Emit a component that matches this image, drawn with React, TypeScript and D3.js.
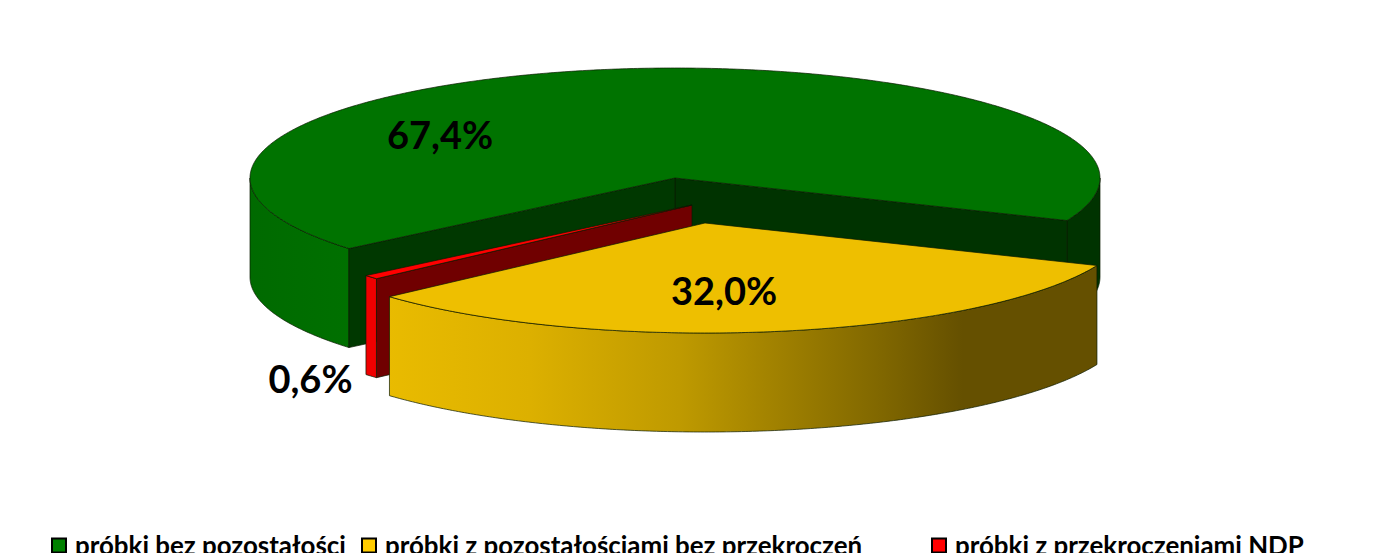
import React from "react";
import * as d3 from "d3";

const categories = ["próbki bez pozostałości", "próbki z pozostałościami bez przekroczeń", "próbki z przekroczeniami NDP"];
const values = [67.4, 32.0, 0.6];
const valueLabels = ["67,4%", "32,0%", "0,6%"];
const topColors = ["#007300", "#eebf00", "#ff0000"];
const legendColors = ["#008000", "#ffcc00", "#ff0000"];

const rx = 425, ry = 110, depth = 99;
const centers: [number, number][] = [[675, 178], [705, 223], [692, 205]];
const rad = Math.PI / 180;
const startDeg = 230.1;
const pie = d3.pie<number>().sort(null).startAngle(startDeg * rad).endAngle((startDeg + 360) * rad);
const arcs = pie(values);

const pt = (c: [number, number], a: number, dy = 0): [number, number] => [
  c[0] + rx * Math.sin(a),
  c[1] - ry * Math.cos(a) + dy,
];
const samples = (a0: number, a1: number) => {
  const n = Math.max(2, Math.ceil(Math.abs(a1 - a0) / (0.5 * rad)));
  return d3.range(n + 1).map((i) => a0 + ((a1 - a0) * i) / n);
};
const line = d3.line<[number, number]>();
const topPath = (c: [number, number], a0: number, a1: number) =>
  line([c, ...samples(a0, a1).map((a) => pt(c, a))])! + "Z";
const wallPath = (c: [number, number], a0: number, a1: number) =>
  line([...samples(a0, a1).map((a) => pt(c, a)), ...samples(a1, a0).map((a) => pt(c, a, depth))])! + "Z";
const sidePath = (c: [number, number], a: number) =>
  line([c, pt(c, a), pt(c, a, depth), [c[0], c[1] + depth]])! + "Z";

const stroke = { stroke: "#0a1a00", strokeWidth: 0.7, strokeLinejoin: "round" as const };
const labelFont = { fontFamily: "Lato, sans-serif", fontWeight: 700 };

const labelPos: [number, number][] = [[440, 149], [724, 304.5], [310.5, 392.5]];
const legendX = [52, 362, 932];

export default function App() {
  const [g, y, r] = arcs;
  const gc = centers[0], yc = centers[1], rc = centers[2];
  const east = 90 * rad, west = 270 * rad;
  const gEnd = g.endAngle - 360 * rad;
  return (
    <svg width={1378} height={553} style={{ position: "fixed", left: 0, top: 0, background: "#fff" }}>
      <defs>
        <linearGradient id="yw" gradientUnits="userSpaceOnUse" x1={388} x2={1097} y1={0} y2={0}>
          <stop offset="0" stopColor="#e9bb00" />
          <stop offset="0.2" stopColor="#dcb000" />
          <stop offset="0.41" stopColor="#bf9a00" />
          <stop offset="0.7" stopColor="#7f6600" />
          <stop offset="0.81" stopColor="#655000" />
          <stop offset="1" stopColor="#655000" />
        </linearGradient>
        <linearGradient id="gw" gradientUnits="userSpaceOnUse" x1={250} x2={349} y1={0} y2={0}>
          <stop offset="0" stopColor="#006a00" />
          <stop offset="1" stopColor="#007000" />
        </linearGradient>
      </defs>

      {/* green slice */}
      <path d={wallPath(gc, east, gEnd)} fill="#003300" {...stroke} />
      <path d={wallPath(gc, g.startAngle, west)} fill="url(#gw)" {...stroke} />
      <path d={sidePath(gc, g.endAngle)} fill="#003300" {...stroke} />
      <path d={sidePath(gc, g.startAngle)} fill="#003800" {...stroke} />
      <path d={topPath(gc, g.startAngle, g.endAngle)} fill={topColors[0]} {...stroke} />

      {/* red slice */}
      <path d={sidePath(rc, r.startAngle)} fill="#700000" {...stroke} />
      <path d={wallPath(rc, r.startAngle, r.endAngle)} fill="#f00000" {...stroke} />
      <path d={topPath(rc, r.startAngle, r.endAngle)} fill={topColors[2]} {...stroke} />

      {/* yellow slice */}
      <path d={wallPath(yc, y.startAngle, y.endAngle)} fill="url(#yw)" {...stroke} />
      <path d={topPath(yc, y.startAngle, y.endAngle)} fill={topColors[1]} {...stroke} />

      {valueLabels.map((t, i) => (
        <text key={t} x={labelPos[i][0]} y={labelPos[i][1]} textAnchor="middle" fontSize={38} fill="#000" {...labelFont}>{t}</text>
      ))}

      {categories.map((c, i) => (
        <g key={c}>
          <rect x={legendX[i]} y={538.5} width={14} height={14} fill={legendColors[i]} stroke="#000" strokeWidth={2} />
          <text x={legendX[i] + 23} y={555} fontSize={25.9} fill="#000" {...labelFont}>{c}</text>
        </g>
      ))}
    </svg>
  );
}
